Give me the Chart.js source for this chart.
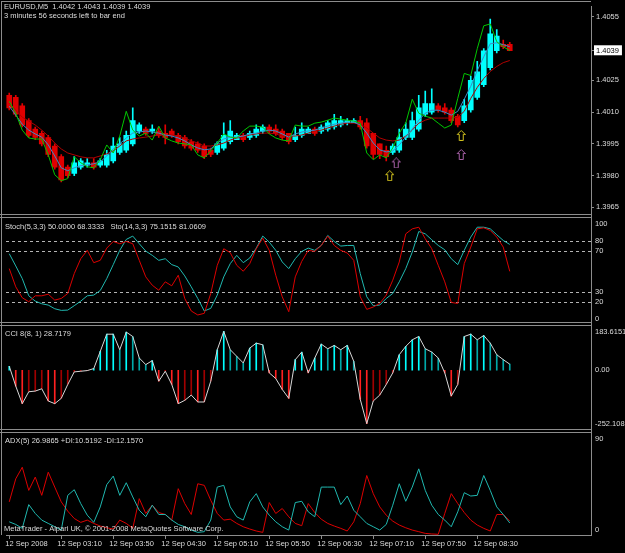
<!DOCTYPE html>
<html>
<head>
<meta charset="utf-8">
<script src="https://cdn.jsdelivr.net/npm/chart.js@4.4.1/dist/chart.umd.min.js"></script>
<style>
  html, body { margin: 0; padding: 0; background: #000; }
  canvas { display: block; }
</style>
</head>
<body>
<canvas id="chart" width="625" height="553"></canvas>
<script>
// EURUSD M5, 12 Sep 2008, bars 02:30 .. 08:55
const opens = [1.4018, 1.4017, 1.4013, 1.4006, 1.4002, 1.4000, 1.3998, 1.3994, 1.3989, 1.3984,
  1.3981, 1.3984, 1.3985, 1.3986, 1.3985, 1.3985, 1.3987, 1.3991, 1.3992, 1.3995,
  1.4001, 1.4002, 1.4001, 1.4001, 1.4000, 1.4001, 1.3999, 1.3998, 1.3996, 1.3995,
  1.3994, 1.3992, 1.3991, 1.3993, 1.3996, 1.3997, 1.3999, 1.3998, 1.3999, 1.4001,
  1.4003, 1.4002, 1.4001, 1.4000, 1.3997, 1.3999, 1.4000, 1.4002, 1.4001, 1.4002,
  1.4003, 1.4004, 1.4005, 1.4005, 1.4006, 1.4005, 1.4000, 1.3995, 1.3992, 1.3991,
  1.3992, 1.3998, 1.3998, 1.4002, 1.4009, 1.4010, 1.4013, 1.4012, 1.4011, 1.4008,
  1.4006, 1.4011, 1.4017, 1.4023, 1.4031, 1.4039, 1.4042, 1.4042]
const highs = [1.4019, 1.4018, 1.4014, 1.4007, 1.4003, 1.4001, 1.3999, 1.3995, 1.3990, 1.3985,
  1.3989, 1.3988, 1.3988, 1.3988, 1.3988, 1.3992, 1.3998, 1.3998, 1.4001, 1.4012,
  1.4005, 1.4003, 1.4004, 1.4003, 1.4004, 1.4002, 1.4000, 1.3999, 1.3997, 1.3996,
  1.3995, 1.3993, 1.3996, 1.4005, 1.4006, 1.4000, 1.4000, 1.4001, 1.4004, 1.4004,
  1.4004, 1.4004, 1.4002, 1.4000, 1.4003, 1.4005, 1.4003, 1.4003, 1.4004, 1.4006,
  1.4009, 1.4008, 1.4007, 1.4007, 1.4008, 1.4007, 1.4000, 1.3995, 1.3994, 1.3995,
  1.4002, 1.4005, 1.4010, 1.4018, 1.4020, 1.4021, 1.4014, 1.4014, 1.4012, 1.4009,
  1.4016, 1.4027, 1.4034, 1.4040, 1.4054, 1.4049, 1.4044, 1.4043]
const lows = [1.4011, 1.4008, 1.4003, 1.3998, 1.3997, 1.3994, 1.3989, 1.3983, 1.3977, 1.3979,
  1.3980, 1.3983, 1.3984, 1.3983, 1.3984, 1.3984, 1.3986, 1.3990, 1.3991, 1.3994,
  1.4000, 1.3999, 1.4000, 1.3998, 1.3995, 1.3998, 1.3995, 1.3993, 1.3992, 1.3991,
  1.3988, 1.3989, 1.3990, 1.3992, 1.3995, 1.3997, 1.3996, 1.3997, 1.3998, 1.4000,
  1.4000, 1.3999, 1.3997, 1.3995, 1.3996, 1.3998, 1.4000, 1.3999, 1.4000, 1.4001,
  1.4002, 1.4003, 1.4004, 1.4005, 1.4002, 1.3993, 1.3988, 1.3988, 1.3987, 1.3990,
  1.3991, 1.3997, 1.3997, 1.4001, 1.4008, 1.4009, 1.4010, 1.4009, 1.4005, 1.4003,
  1.4005, 1.4010, 1.4016, 1.4022, 1.4030, 1.4038, 1.4040, 1.4039]
const closes = [1.4012, 1.4009, 1.4004, 1.3999, 1.3998, 1.3995, 1.3990, 1.3984, 1.3978, 1.3980,
  1.3986, 1.3987, 1.3986, 1.3984, 1.3987, 1.3990, 1.3994, 1.3995, 1.3999, 1.4006,
  1.4004, 1.4000, 1.4002, 1.3999, 1.3998, 1.3999, 1.3996, 1.3994, 1.3993, 1.3992,
  1.3989, 1.3990, 1.3995, 1.3999, 1.4001, 1.3999, 1.3997, 1.4000, 1.4002, 1.4003,
  1.4001, 1.4000, 1.3998, 1.3996, 1.3999, 1.4002, 1.4002, 1.4000, 1.4003, 1.4005,
  1.4006, 1.4006, 1.4006, 1.4006, 1.4003, 1.3994, 1.3990, 1.3990, 1.3989, 1.3994,
  1.3998, 1.4002, 1.4006, 1.4012, 1.4014, 1.4014, 1.4011, 1.4010, 1.4006, 1.4004,
  1.4013, 1.4025, 1.4029, 1.4039, 1.4047, 1.4046, 1.4041, 1.4039]

// moving averages on the price window
const slowMa = [1.40142, 1.40109, 1.40076, 1.40058, 1.40039, 1.40015, 1.39987, 1.39954, 1.39926, 1.39907,
  1.39898, 1.39889, 1.39884, 1.39884, 1.39893, 1.39903, 1.39917, 1.39940, 1.39964, 1.39973,
  1.39978, 1.39982, 1.39987, 1.39992, 1.39992, 1.39992, 1.39987, 1.39978, 1.39964, 1.39954,
  1.39940, 1.39940, 1.39945, 1.39954, 1.39968, 1.39978, 1.39982, 1.39992, 1.39997, 1.40001,
  1.40001, 1.39997, 1.39987, 1.39987, 1.39987, 1.39992, 1.40001, 1.40011, 1.40015, 1.40025,
  1.40034, 1.40043, 1.40048, 1.40048, 1.40043, 1.40025, 1.40001, 1.39978, 1.39968, 1.39964,
  1.39968, 1.39987, 1.40015, 1.40048, 1.40062, 1.40072, 1.40072, 1.40072, 1.40072, 1.40076,
  1.40104, 1.40165, 1.40217, 1.40259, 1.40292, 1.40316, 1.40334, 1.40344]
const midMa = [1.40128, 1.40086, 1.40043, 1.40015, 1.39997, 1.39982, 1.39945, 1.39893, 1.39837, 1.39823,
  1.39837, 1.39847, 1.39851, 1.39856, 1.39865, 1.39893, 1.39926, 1.39950, 1.39978, 1.40001,
  1.40006, 1.40011, 1.40006, 1.40001, 1.39992, 1.39987, 1.39978, 1.39964, 1.39945, 1.39931,
  1.39922, 1.39926, 1.39954, 1.39973, 1.39982, 1.39982, 1.39987, 1.39997, 1.40001, 1.40011,
  1.40015, 1.40011, 1.39997, 1.39982, 1.39997, 1.40006, 1.40011, 1.40015, 1.40025, 1.40034,
  1.40043, 1.40048, 1.40053, 1.40053, 1.40039, 1.40001, 1.39954, 1.39922, 1.39912, 1.39917,
  1.39945, 1.39982, 1.40020, 1.40062, 1.40095, 1.40109, 1.40109, 1.40100, 1.40086, 1.40104,
  1.40161, 1.40222, 1.40297, 1.40362, 1.40423, 1.40428, 1.40419, 1.40409]
const fastMa = [1.40151, 1.40095, 1.40015, 1.39978, 1.39973, 1.39973, 1.39898, 1.39804, 1.39776, 1.39786,
  1.39889, 1.39861, 1.39842, 1.39837, 1.39875, 1.39945, 1.39907, 1.39987, 1.40104, 1.40015,
  1.39987, 1.40001, 1.39968, 1.40034, 1.39978, 1.39964, 1.39954, 1.39950, 1.39945, 1.39898,
  1.39884, 1.39917, 1.39954, 1.39997, 1.39982, 1.39978, 1.40011, 1.40034, 1.40034, 1.40029,
  1.39997, 1.39978, 1.39968, 1.39964, 1.40039, 1.40034, 1.40034, 1.40048, 1.40053, 1.40062,
  1.40072, 1.40067, 1.40062, 1.40058, 1.40048, 1.39907, 1.39875, 1.39898, 1.39884, 1.39931,
  1.40001, 1.40048, 1.40161, 1.40095, 1.40081, 1.40072, 1.40048, 1.40025, 1.40039, 1.40165,
  1.40283, 1.40273, 1.40400, 1.40508, 1.40517, 1.40433, 1.40409, 1.40391]

// signal arrows: [bar, price]
const yellowArrows = [[58, 1.3980], [69, 1.3999]]
const purpleArrows = [[59, 1.3986], [69, 1.3990]]

const stochFast = [52.7, 34.8, 24.1, 20.2, 26.0, 26.0, 27.6, 21.8, 23.4, 28.3,
  47.8, 62.4, 70.6, 58.5, 60.8, 72.8, 79.3, 77.1, 79.3, 77.1,
  60.8, 44.6, 36.4, 31.5, 39.7, 35.8, 46.2, 23.4, 11.1, 7.2,
  8.8, 28.3, 55.9, 72.2, 68.3, 55.9, 50.1, 57.6, 72.2, 82.6,
  70.6, 46.2, 25.0, 10.4, 44.6, 59.8, 70.6, 69.6, 75.4, 84.6,
  75.4, 70.6, 68.0, 60.8, 25.0, 12.7, 15.0, 18.5, 26.7, 41.3,
  59.2, 86.8, 91.7, 93.3, 82.0, 72.2, 55.9, 39.7, 19.5, 18.5,
  57.6, 73.8, 91.7, 92.7, 90.1, 83.6, 73.8, 50.0]
const stochSlow = [67.3, 55.3, 42.9, 26.0, 20.8, 18.2, 16.9, 13.3, 11.7, 12.0,
  16.3, 20.8, 26.0, 26.7, 31.2, 42.9, 56.6, 70.6, 81.3, 84.6,
  77.1, 69.9, 65.7, 60.8, 62.4, 56.6, 54.3, 45.5, 34.8, 23.4,
  11.1, 13.7, 26.7, 44.6, 57.6, 65.7, 58.5, 63.1, 72.8, 84.6,
  78.7, 70.6, 59.2, 52.7, 62.4, 69.6, 72.8, 70.6, 75.4, 85.2,
  79.3, 74.8, 75.4, 75.4, 47.8, 25.0, 16.3, 16.9, 23.4, 28.3,
  39.7, 52.7, 68.9, 89.1, 86.8, 81.0, 75.4, 71.2, 62.4, 56.6,
  70.6, 83.6, 93.3, 93.3, 91.7, 85.9, 80.3, 76.4]
const stochLevels = [80, 70, 30, 20]
const stochTicks = [100, 80, 70, 30, 20, 0]

const cciValues = [18.8, -75, -157.8, -101.6, -98.4, -87.5, -145.3, -157.8, -132.8, -67.2,
  -7.8, -4.7, -1.6, 7.8, 89.1, 170.3, 170.3, 96.9, 180.2, 159.4,
  57.8, 26.6, 45.3, -51.6, -4.7, -67.2, -157.8, -142.2, -117.2, -150,
  -150, -51.6, 96.9, 183.6151, 96.9, 65.6, 34.4, 104.7, 128.1, 120.3,
  -12.5, -39.1, -90.6, -132.8, 50, 85.9, -12.5, 57.8, 123.4, 101.6,
  117.2, 96.9, 117.2, 42.2, -137.5, -252.108, -145.3, -117.2, -67.2, -12.5,
  73.4, 112.5, 143.8, 159.4, 101.6, 85.9, 57.8, -12.5, -121.9, -67.2,
  159.4, 170.3, 143.8, 164.1, 128.1, 73.4, 50, 28.7179]
const cciTicks = [183.6151, 0, -252.108]
const cciTickLabels = ['183.6151', '0.00', '-252.108']

const plusDi = [11.5, 9.2, 5.8, 26.5, 18.8, 13.0, 10.1, 7.2, 4.3, 34.6,
  39.5, 27.4, 17.3, 11.0, 24.5, 43.9, 51.4, 34.6, 45.6, 33.2,
  21.6, 15.9, 26.0, 17.9, 17.9, 13.0, 9.2, 7.2, 4.3, 2.3,
  2.9, 13.0, 41.8, 43.3, 24.5, 15.9, 13.0, 28.9, 36.1, 24.5,
  17.3, 11.5, 7.2, 4.3, 28.3, 29.4, 20.2, 15.9, 41.8, 41.8,
  41.8, 26.5, 34.0, 21.6, 15.9, 10.1, 7.2, 4.3, 9.2, 26.0,
  44.7, 29.4, 41.8, 57.7, 38.9, 26.0, 17.9, 13.0, 7.2, 20.2,
  36.9, 34.0, 34.6, 51.9, 38.9, 24.5, 17.9, 10.5]
const minusDi = [28.9, 49.0, 59.1, 38.9, 50.5, 34.6, 54.8, 41.8, 28.9, 20.8,
  14.4, 11.0, 13.0, 10.1, 7.8, 6.3, 5.2, 13.0, 10.1, 5.8,
  31.7, 18.8, 26.0, 19.6, 17.9, 13.0, 40.4, 27.4, 17.9, 44.7,
  43.3, 30.3, 18.8, 13.0, 13.8, 10.1, 7.2, 5.2, 3.5, 2.3,
  28.3, 18.8, 23.1, 15.9, 10.1, 8.1, 27.4, 19.6, 13.8, 10.1,
  7.8, 5.8, 3.5, 11.5, 27.4, 51.9, 36.1, 24.5, 17.3, 12.1,
  8.7, 6.3, 4.3, 2.9, 1.4, 0.9, 0.6, 18.8, 36.1, 27.4,
  19.6, 13.0, 8.7, 5.8, 3.5, 17.9, 17.9, 12.2]
const adxTicks = [90, 0]

const BAR_SLOTS = 90 // 78 bars plus the empty right shift
const LABEL_EVERY = 8
const timeLabels = ['12 Sep 2008', '12 Sep 03:10', '12 Sep 03:50', '12 Sep 04:30', '12 Sep 05:10',
  '12 Sep 05:50', '12 Sep 06:30', '12 Sep 07:10', '12 Sep 07:50', '12 Sep 08:30']
const priceTicks = [1.4055, 1.4039, 1.4025, 1.4010, 1.3995, 1.3980, 1.3965]
const lastPrice = 1.4039

const titleMain = 'EURUSD,M5  1.4042 1.4043 1.4039 1.4039'
const titleTimer = '3 minutes 56 seconds left to bar end'
const titleStoch = 'Stoch(5,3,3) 50.0000 68.3333   Sto(14,3,3) 75.1515 81.0609'
const titleCci = 'CCI 8(8, 1) 28.7179'
const titleAdx = 'ADX(5) 26.9865 +DI:10.5192 -DI:12.1570'
const copyright = 'MetaTrader - Alpari UK, \u00a9 2001-2008 MetaQuotes Software Corp.'

const UP = '#00ffff'
const DOWN = '#e00000'
const FRAME = '#8c8c8c'
const TEXT = '#dcdcdc'
const FONT_FAMILY = '"Liberation Sans", Arial, sans-serif'
const FONT_SIZE = 7.5
const AXIS_WIDTH = 34

const candleColors = closes.map((c, i) => (c >= opens[i] ? UP : DOWN))
const cciColors = cciValues.map((v, i) => {
  const rising = i === 0 || v >= cciValues[i - 1]
  if (v >= 0) return rising ? '#00ffff' : '#00a8a8'
  return rising ? '#a00000' : '#ff2020'
})

function arrowIcon(color) {
  const c = document.createElement('canvas')
  c.width = 16
  c.height = 11
  const g = c.getContext('2d')
  g.strokeStyle = color
  g.lineWidth = 1
  // MT4 draws its arrow glyphs a few pixels right of the bar
  g.beginPath()
  g.moveTo(11.5, 0.5)
  g.lineTo(15.5, 4.5)
  g.lineTo(13.5, 4.5)
  g.lineTo(13.5, 10.5)
  g.lineTo(9.5, 10.5)
  g.lineTo(9.5, 4.5)
  g.lineTo(7.5, 4.5)
  g.closePath()
  g.stroke()
  return c
}

const line = (data, yAxisID, color, order) => ({
  type: 'line', data, yAxisID, borderColor: color, borderWidth: 1,
  pointRadius: 0, tension: 0, order,
})

// keep Chart.js from padding the plot for the edge tick labels
const noPadding = (s) => {
  s.paddingTop = 0
  s.paddingBottom = 0
  s.paddingLeft = 0
  s.paddingRight = 0
}

const paneAxis = (weight, min, max) => ({
  type: 'linear', position: 'right', stack: 'panes', stackWeight: weight, min, max,
  ticks: { display: false }, grid: { display: false },
  border: { color: FRAME },
  afterFit: (s) => { s.width = AXIS_WIDTH; noPadding(s) },
})

const mtOverlay = {
  id: 'mtOverlay',
  beforeDatasetsDraw(chart) {
    const { ctx, chartArea, scales } = chart
    ctx.save()
    ctx.strokeStyle = '#b4b4b4'
    ctx.lineWidth = 1
    ctx.setLineDash([3, 3])
    stochLevels.forEach((v) => {
      const y = Math.round(scales.stoch.getPixelForValue(v)) + 0.5
      ctx.beginPath()
      ctx.moveTo(chartArea.left, y)
      ctx.lineTo(chartArea.right, y)
      ctx.stroke()
    })
    ctx.restore()
  },
  afterDraw(chart) {
    const { ctx, chartArea, scales } = chart
    const { price, stoch, cci, adx } = scales
    ctx.save()
    ;[price.bottom, stoch.bottom, cci.bottom].forEach((b) => {
      const y = Math.round(b)
      ctx.fillStyle = '#000'
      ctx.fillRect(0, y - 2, chartArea.right, 4)
      ctx.fillStyle = FRAME
      ctx.fillRect(0, y - 2, chartArea.right, 1)
      ctx.fillRect(0, y + 1, chartArea.right, 1)
    })
    ctx.fillStyle = FRAME
    ctx.fillRect(1, 1, 1, chartArea.bottom - 1)
    ctx.fillRect(1, 1, chartArea.right - 1, 1)

    ctx.font = FONT_SIZE + 'px ' + FONT_FAMILY
    ctx.fillStyle = TEXT
    ctx.textAlign = 'left'
    ctx.textBaseline = 'middle'
    ;[
      { s: stoch, values: stochTicks, labels: stochTicks.map(String) },
      { s: cci, values: cciTicks, labels: cciTickLabels },
      { s: adx, values: adxTicks, labels: adxTicks.map(String) },
    ].forEach(({ s, values, labels }) => {
      values.forEach((v, i) => {
        const y = Math.min(Math.max(s.getPixelForValue(v), s.top + 8), s.bottom - 5.5)
        ctx.fillText(labels[i], s.left + 4, y)
      })
    })

    ctx.fillText(titleMain, 4, 7)
    ctx.fillText(titleTimer, 4, 16)
    ctx.fillText(titleStoch, 5, stoch.top + 11)
    ctx.fillText(titleCci, 5, cci.top + 9.5)
    ctx.fillText(titleAdx, 5, adx.top + 10)
    ctx.fillText(copyright, 4, adx.bottom - 6)
    ctx.restore()
  },
}

const ctx = document.getElementById('chart').getContext('2d')
new Chart(ctx, {
  type: 'bar',
  plugins: [mtOverlay],
  data: {
    labels: Array.from({ length: BAR_SLOTS }, (_, i) => i),
    datasets: [
      line(fastMa, 'price', '#00c800', 1),
      line(midMa, 'price', '#3c8cc8', 2),
      line(slowMa, 'price', '#b00000', 3),
      {
        type: 'bar', data: opens.map((o, i) => [o, closes[i]]), yAxisID: 'price',
        backgroundColor: candleColors, barThickness: 5, minBarLength: 1, grouped: false, order: 4,
      },
      {
        type: 'bar', data: lows.map((l, i) => [l, highs[i]]), yAxisID: 'price',
        backgroundColor: candleColors, barThickness: 1, grouped: false, order: 5,
      },
      {
        type: 'line', showLine: false, yAxisID: 'price', order: 0,
        data: yellowArrows.map(([x, y]) => ({ x, y })),
        pointStyle: arrowIcon('#d2c21e'), pointRadius: 5,
      },
      {
        type: 'line', showLine: false, yAxisID: 'price', order: 0,
        data: purpleArrows.map(([x, y]) => ({ x, y })),
        pointStyle: arrowIcon('#a860a8'), pointRadius: 5,
      },
      line(stochSlow, 'stoch', '#20b8b0', 7),
      line(stochFast, 'stoch', '#dc0000', 6),
      line(cciValues, 'cci', '#d8d8d8', 8),
      {
        type: 'bar', data: cciValues, yAxisID: 'cci', backgroundColor: cciColors,
        barThickness: 1, grouped: false, order: 9,
      },
      line(minusDi, 'adx', '#dc0000', 11),
      line(plusDi, 'adx', '#20b8b0', 10),
    ],
  },
  options: {
    responsive: false,
    animation: false,
    events: [],
    layout: { padding: { left: 2, top: 2, right: 0, bottom: 0 } },
    plugins: { legend: { display: false }, tooltip: { enabled: false } },
    scales: {
      x: {
        type: 'category',
        offset: true,
        afterBuildTicks: (s) => {
          s.ticks = s.ticks.filter((t) => t.value % LABEL_EVERY === 0 && t.value / LABEL_EVERY < timeLabels.length)
        },
        ticks: {
          autoSkip: false, maxRotation: 0, align: 'start', padding: 0, labelOffset: -4,
          color: TEXT, font: { family: FONT_FAMILY, size: FONT_SIZE },
          callback: (v) => timeLabels[v / LABEL_EVERY],
        },
        grid: { offset: false, drawOnChartArea: false, tickLength: 4, color: FRAME },
        border: { color: FRAME },
        afterFit: (s) => { s.height = 18; noPadding(s) },
      },
      price: {
        type: 'linear', position: 'right', stack: 'panes', stackWeight: 212,
        min: 1.396073, max: 1.406016,
        afterBuildTicks: (s) => { s.ticks = priceTicks.map((value) => ({ value })) },
        ticks: {
          padding: 2,
          font: { family: FONT_FAMILY, size: FONT_SIZE },
          callback: (v) => v.toFixed(4),
          color: (c) => (c.tick && c.tick.value === lastPrice ? '#000' : TEXT),
          showLabelBackdrop: (c) => !!(c.tick && c.tick.value === lastPrice),
          backdropColor: '#ffffff',
          backdropPadding: { top: 1, bottom: 0, left: 2, right: 3 },
        },
        grid: { drawOnChartArea: false, tickLength: 3, color: FRAME },
        border: { color: FRAME },
        afterFit: (s) => { s.width = AXIS_WIDTH; noPadding(s) },
      },
      stoch: paneAxis(108.5, -1.75, 103.9),
      cci: paneAxis(107.5, -286, 218),
      adx: paneAxis(105, 0, 90.9),
    },
  },
})
</script>
</body>
</html>
